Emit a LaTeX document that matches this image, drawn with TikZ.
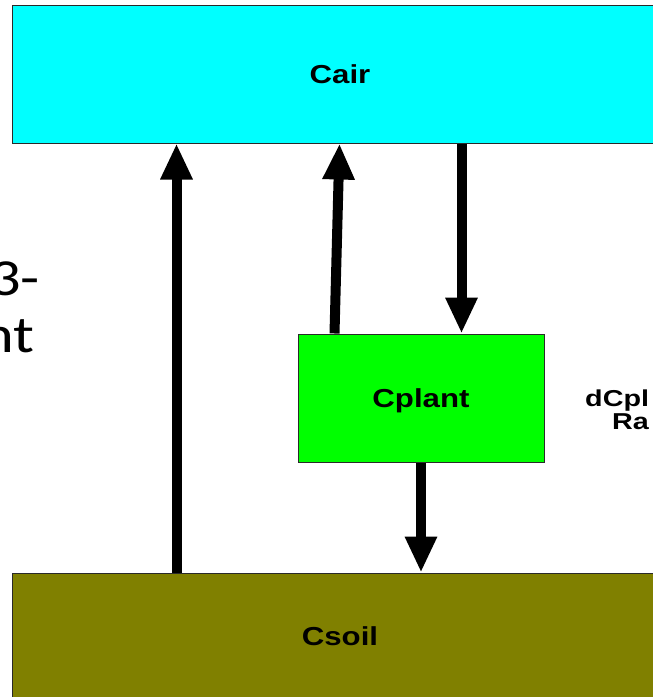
\documentclass[tikz,border=0pt]{standalone}
\usepackage{fontspec}
\setmainfont{Liberation Sans}
\newfontfamily\calfont{Carlito}
\usetikzlibrary{arrows.meta}
\newcommand\widetext[1]{\scalebox{1.2}[1]{#1}}
\newcommand\widertext[1]{\scalebox{1.25}[1]{#1}}
\definecolor{aircol}{HTML}{00FFFF}
\definecolor{plantcol}{HTML}{00FF00}
\definecolor{soilcol}{HTML}{808000}
\definecolor{edgecol}{HTML}{2A2A2A}
\tikzset{
  pool/.style={draw=edgecol, line width=1pt, inner sep=0pt, text height=18pt, text depth=0pt,
    font=\bfseries\fontsize{26}{30}\selectfont},
  flow/.style={line width=10pt, -{Triangle[length=36pt,width=30pt]}, shorten <=0pt},
  bigtxt/.style={inner sep=0pt, font=\calfont\fontsize{52}{57}\selectfont},
  sidetxt/.style={inner sep=0pt, font=\bfseries\fontsize{23}{26}\selectfont}
}
\begin{document}
\begin{tikzpicture}[x=1pt,y=-1pt]
\useasboundingbox (0,0) rectangle (653,697);
\fill[white] (0,0) rectangle (653,697);
% text on the left, clipped by the frame
\node[bigtxt, anchor=base east] (t1) at (40,295) {\widetext{3-}};
\node[bigtxt, anchor=base east] (t2) at (35,352) {\widetext{nt}};
% boxes
\node[pool, fill=aircol, minimum width=656pt, minimum height=138pt] (cair) at (340,74) {\widetext{Cair}};
\node[pool, fill=plantcol, minimum width=246pt, minimum height=128pt] (cplant) at (421,398) {\widetext{Cplant}};
\node[pool, fill=soilcol, minimum width=656pt, minimum height=126pt] (csoil) at (340,636) {\widetext{Csoil}};
% side text, clipped at right
\node[sidetxt, anchor=base west] (s1) at (585,406) {\widertext{dCpl}};
\node[sidetxt, anchor=base west] (s2) at (612,429) {\widertext{Ra}};
% flows
\draw[flow] ([xshift=-163.5pt]csoil.north) -- ([xshift=-163.5pt]cair.south);
\draw[flow] ([xshift=-86.5pt]cplant.north) -- ([xshift=-0.5pt]cair.south);
\draw[flow] ([xshift=121.5pt]cair.south) -- ([xshift=40.5pt]cplant.north);
\draw[flow] (cplant.south) -- (cplant.south |- csoil.north);
\end{tikzpicture}
\end{document}
